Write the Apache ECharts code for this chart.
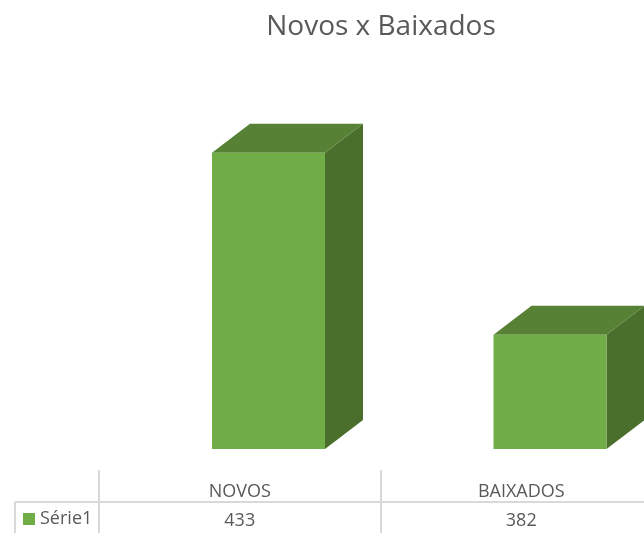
<!DOCTYPE html>
<html>
<head>
<meta charset="utf-8">
<style>
  html, body { margin: 0; padding: 0; background: #fff; }
  #chart { width: 644px; height: 533px; }
</style>
<script src="https://cdn.jsdelivr.net/npm/echarts@6/dist/echarts.min.js"></script>
</head>
<body>
<div id="chart"></div>
<script>
const categories = ['NOVOS', 'BAIXADOS']
const values = [433, 382]
const seriesName = 'Série1'
const chartTitle = 'Novos x Baixados'

const textFont = '"Open Sans", sans-serif'
const textColor = '#595959'
const tableLine = '#d9d9d9'
const barWidth = 113
const depthX = 38
const depthY = 29
const axisMin = 350
const axisMax = 450

const chart = echarts.init(document.getElementById('chart'))

// 3D column: front, top and side faces
function renderColumn(params, api) {
  const top = api.coord([api.value(0), api.value(1)])
  const base = api.coord([api.value(0), axisMin])
  const x0 = top[0] - barWidth / 2
  const x1 = top[0] + barWidth / 2
  const face = (points, fill) => ({ type: 'polygon', shape: { points }, style: { fill } })
  return {
    type: 'group',
    children: [
      face([[x1, top[1]], [x1 + depthX, top[1] - depthY], [x1 + depthX, base[1] - depthY], [x1, base[1]]], '#4a6e2b'),
      face([[x0, top[1]], [x0 + depthX, top[1] - depthY], [x1 + depthX, top[1] - depthY], [x1, top[1]]], '#578135'),
      face([[x0, top[1]], [x1, top[1]], [x1, base[1]], [x0, base[1]]], '#70ad47')
    ]
  }
}

// table row axis: labels sit inside, just above the row's bottom edge
function rowAxis(gridIndex, data, margin) {
  return {
    type: 'category',
    gridIndex,
    data,
    axisLine: { show: false },
    axisTick: { show: false },
    axisLabel: { inside: true, margin, fontFamily: textFont, fontSize: 18, color: textColor },
    splitLine: { show: true, lineStyle: { color: tableLine, width: 2 } }
  }
}

chart.setOption({
  animation: false,
  title: {
    text: chartTitle,
    left: 376,
    top: 8,
    textAlign: 'center',
    textStyle: { fontFamily: textFont, fontSize: 28, fontWeight: 'normal', color: textColor }
  },
  legend: {
    left: 23,
    top: 510,
    padding: 0,
    itemWidth: 12,
    itemHeight: 12,
    itemGap: 0,
    icon: 'rect',
    selectedMode: false,
    data: [seriesName],
    textStyle: { fontFamily: textFont, fontSize: 18, color: textColor, padding: [0, 0, 0, 0] }
  },
  grid: [
    { left: 127.75, top: 92, width: 563, height: 357, outerBoundsMode: 'none' },
    { left: 99, top: 470, width: 563, height: 32, outerBoundsMode: 'none' },
    { left: 99, top: 502, width: 563, height: 31, outerBoundsMode: 'none' }
  ],
  xAxis: [
    { type: 'category', gridIndex: 0, data: categories, show: false },
    rowAxis(1, categories, 1),
    rowAxis(2, values.map(String), 3)
  ],
  yAxis: [
    { type: 'value', gridIndex: 0, min: axisMin, max: axisMax, show: false },
    { type: 'value', gridIndex: 1, min: 0, max: 1, show: false },
    { type: 'value', gridIndex: 2, min: 0, max: 1, show: false }
  ],
  graphic: [
    { type: 'line', shape: { x1: 15, y1: 502, x2: 662, y2: 502 }, style: { stroke: tableLine, lineWidth: 2 } },
    { type: 'line', shape: { x1: 15, y1: 502, x2: 15, y2: 533 }, style: { stroke: tableLine, lineWidth: 2 } }
  ],
  series: [{
    name: seriesName,
    type: 'custom',
    xAxisIndex: 0,
    yAxisIndex: 0,
    clip: false,
    itemStyle: { color: '#70ad47' },
    renderItem: renderColumn,
    encode: { x: 0, y: 1 },
    data: values.map((v, i) => [i, v])
  }]
})
</script>
</body>
</html>
